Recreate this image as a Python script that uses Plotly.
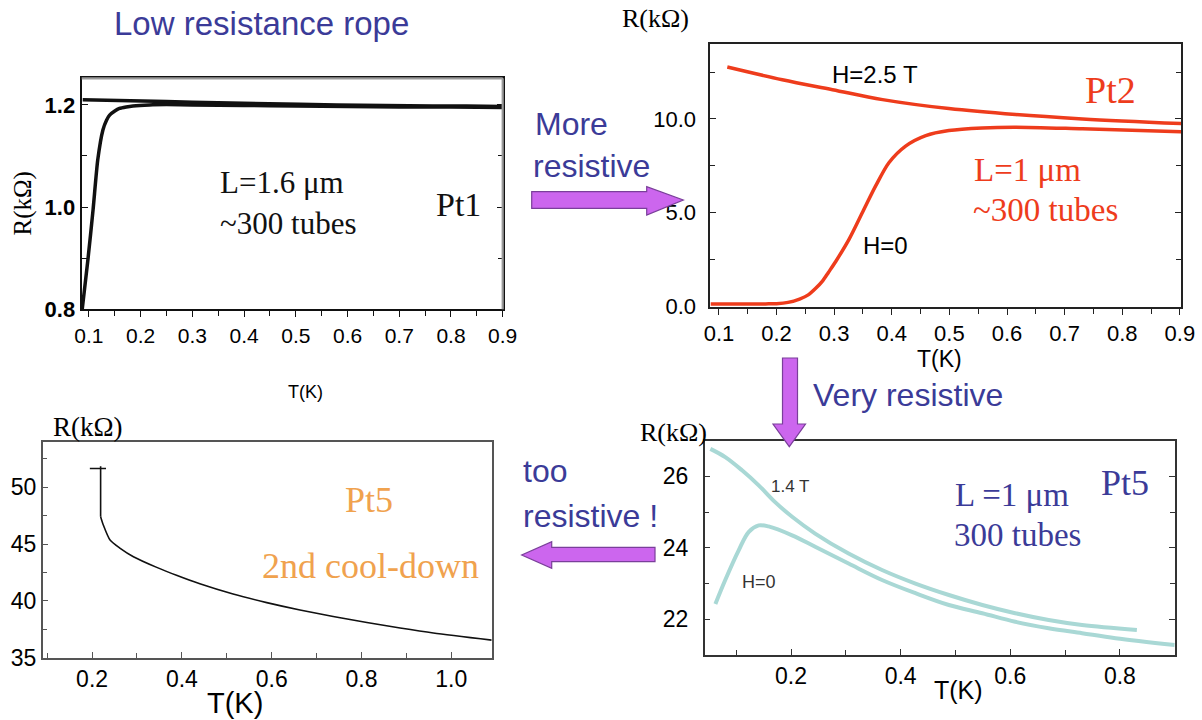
import plotly.graph_objects as go

W, H = 1202, 720

# ---------------- data ----------------
# Panel 1 (Pt1, low resistance rope)
p1_T_flat = [0.088, 0.12, 0.15, 0.185, 0.22, 0.25, 0.30, 0.379, 0.45, 0.507, 0.58, 0.636, 0.70, 0.765, 0.83, 0.90]
p1_R_flat = [1.210, 1.209, 1.208, 1.208, 1.207, 1.2065, 1.205, 1.203, 1.202, 1.201, 1.200, 1.199, 1.199, 1.198, 1.198, 1.197]
p1_T_rise = [0.087, 0.098, 0.108, 0.117, 0.127, 0.134, 0.140, 0.150, 0.159, 0.172, 0.185, 0.217, 0.25, 0.30, 0.40, 0.50, 0.60, 0.70, 0.80, 0.90]
p1_R_rise = [0.800, 0.897, 0.995, 1.092, 1.151, 1.170, 1.180, 1.188, 1.193, 1.196, 1.198, 1.200, 1.2005, 1.200, 1.199, 1.198, 1.197, 1.196, 1.196, 1.195]

# Panel 2 (Pt2)
p2_T_H25 = [0.1145, 0.21, 0.297, 0.384, 0.499, 0.615, 0.731, 0.903]
p2_R_H25 = [12.77, 12.09, 11.56, 11.03, 10.55, 10.23, 10.00, 9.75]
p2_T_H0 = [0.0855, 0.181, 0.20, 0.22, 0.24, 0.255, 0.268, 0.28, 0.29, 0.303, 0.326, 0.349, 0.372, 0.395, 0.424, 0.459, 0.499, 0.557, 0.615, 0.731, 0.903]
p2_R_H0 = [0.11, 0.12, 0.13, 0.20, 0.38, 0.60, 0.95, 1.35, 1.80, 2.40, 3.58, 5.00, 6.42, 7.66, 8.55, 9.11, 9.38, 9.52, 9.56, 9.47, 9.31]

# Panel 3 (Pt5, 2nd cool-down)
p3_T_cap = [0.195, 0.231]
p3_R_cap = [51.65, 51.65]
p3_T_jump = [0.219, 0.219]
p3_R_jump = [51.85, 47.41]
p3_T = [0.219, 0.225, 0.240, 0.2626, 0.292, 0.344, 0.388, 0.44, 0.514, 0.589, 0.663, 0.737, 0.812, 0.886, 0.96, 1.09]
p3_R = [47.41, 46.68, 45.36, 44.63, 43.89, 42.95, 42.25, 41.50, 40.60, 39.85, 39.20, 38.63, 38.10, 37.62, 37.18, 36.55]

# Panel 4 (Pt5, very resistive)
p4_T_14 = [0.0528, 0.080, 0.1106, 0.141, 0.171, 0.202, 0.244, 0.305, 0.366, 0.427, 0.488, 0.549, 0.609, 0.670, 0.731, 0.831]
p4_R_14 = [26.77, 26.54, 26.17, 25.75, 25.28, 24.87, 24.40, 23.84, 23.38, 23.00, 22.68, 22.40, 22.17, 21.98, 21.84, 21.70]
p4_T_H0 = [0.062, 0.080, 0.1045, 0.123, 0.141, 0.159, 0.202, 0.244, 0.305, 0.366, 0.427, 0.488, 0.549, 0.609, 0.670, 0.731, 0.792, 0.90]
p4_R_H0 = [22.43, 23.10, 23.93, 24.45, 24.63, 24.60, 24.35, 24.03, 23.56, 23.10, 22.73, 22.40, 22.17, 21.93, 21.75, 21.61, 21.47, 21.28]

# tick values
p1_xticks = [0.1, 0.2, 0.3, 0.4, 0.5, 0.6, 0.7, 0.8, 0.9]
p1_yticks = [0.8, 1.0, 1.2]
p2_xticks = [0.1, 0.2, 0.3, 0.4, 0.5, 0.6, 0.7, 0.8, 0.9]
p2_yticks = [0.0, 5.0, 10.0]
p3_xticks = [0.2, 0.4, 0.6, 0.8, 1.0]
p3_yticks = [35, 40, 45, 50]
p4_xticks = [0.2, 0.4, 0.6, 0.8]
p4_yticks = [22, 24, 26]

# ---------------- styling helpers ----------------
SANS = "Liberation Sans, Arial, sans-serif"
SERIF = "Liberation Serif, Times New Roman, serif"
BLUE = "#3B3B98"
RED = "#EE3C1C"
ORANGE = "#F0A24E"
TEAL = "#A9D8D5"
ARROW_FILL = "#CC66EE"
ARROW_LINE = "#7A3F9A"


def px(x):
    return x / W


def py(y):
    return 1 - y / H


fig = go.Figure()

fig.add_trace(go.Scatter(x=p1_T_flat, y=p1_R_flat, mode="lines", line=dict(color="#111", width=3.5),
                         xaxis="x", yaxis="y", showlegend=False))
fig.add_trace(go.Scatter(x=p1_T_rise, y=p1_R_rise, mode="lines", line=dict(color="#111", width=3.5, shape="spline", smoothing=0.6),
                         xaxis="x", yaxis="y", showlegend=False))

fig.add_trace(go.Scatter(x=p2_T_H25, y=p2_R_H25, mode="lines", line=dict(color=RED, width=3.5, shape="spline"),
                         xaxis="x2", yaxis="y2", showlegend=False))
fig.add_trace(go.Scatter(x=p2_T_H0, y=p2_R_H0, mode="lines", line=dict(color=RED, width=3.5, shape="spline", smoothing=0.8),
                         xaxis="x2", yaxis="y2", showlegend=False))

fig.add_trace(go.Scatter(x=p3_T_cap, y=p3_R_cap, mode="lines", line=dict(color="#111", width=1.5),
                         xaxis="x3", yaxis="y3", showlegend=False))
fig.add_trace(go.Scatter(x=p3_T_jump, y=p3_R_jump, mode="lines", line=dict(color="#111", width=1.6),
                         xaxis="x3", yaxis="y3", showlegend=False))
fig.add_trace(go.Scatter(x=p3_T, y=p3_R, mode="lines", line=dict(color="#111", width=1.6, shape="spline", smoothing=0.7),
                         xaxis="x3", yaxis="y3", showlegend=False))

fig.add_trace(go.Scatter(x=p4_T_14, y=p4_R_14, mode="lines", line=dict(color=TEAL, width=4, shape="spline"),
                         xaxis="x4", yaxis="y4", showlegend=False))
fig.add_trace(go.Scatter(x=p4_T_H0, y=p4_R_H0, mode="lines", line=dict(color=TEAL, width=4, shape="spline"),
                         xaxis="x4", yaxis="y4", showlegend=False))


def xax(domain, rng, tickvals, fmt, ticks, minor, size, lc="#222", lw=1.5, mirror=True, standoff=None):
    d = dict(domain=domain, range=rng, tickvals=tickvals, ticktext=[fmt.format(v) for v in tickvals],
             ticks=ticks, ticklen=6, tickwidth=1.2, tickcolor=lc,
             minor=dict(tickvals=minor, ticks=ticks, ticklen=5, tickwidth=1.2, tickcolor=lc),
             showline=True, linecolor=lc, linewidth=lw, mirror=mirror,
             showgrid=False, zeroline=False, automargin=False,
             tickfont=dict(family=SANS, size=size, color="#000"))
    if standoff is not None:
        d["ticklabelstandoff"] = standoff
    return d


fig.update_layout(
    width=W, height=H, autosize=False,
    margin=dict(l=0, r=0, t=0, b=0, pad=0),
    paper_bgcolor="white", plot_bgcolor="white",
    xaxis=xax([px(81.7), px(502.7)], [0.086, 0.9], p1_xticks, "{:.1f}", "outside",
              [0.15, 0.25, 0.35, 0.45, 0.55, 0.65, 0.75, 0.85], 21, lc="#111", lw=2.2, mirror=True),
    yaxis=dict(xax([py(309.3), py(78.3)], [0.8, 1.252], p1_yticks, "{:.1f}", "inside",
                   [0.9, 1.1], 22, lc="#111", lw=2.2, mirror="ticks"),
               anchor="x"),
    xaxis2=dict(xax([px(710.3), px(1181)], [0.085, 0.902], p2_xticks, "{:.1f}", "outside",
                    [0.15, 0.25, 0.35, 0.45, 0.55, 0.65, 0.75, 0.85], 22, lc="#222", lw=1.6), anchor="y2"),
    yaxis2=dict(xax([py(306.7), py(44)], [-0.03, 14.0], p2_yticks, "{:.1f}", "inside",
                    [2.5, 7.5, 12.5], 22, lc="#222", lw=1.6, mirror="ticks", standoff=8), anchor="x2"),
    xaxis3=dict(xax([px(42.7), px(491.7)], [0.09, 1.09], p3_xticks, "{:.1f}", "inside",
                    [0.1, 0.3, 0.5, 0.7, 0.9], 23, lc="#555", lw=1.5), anchor="y3"),
    yaxis3=dict(xax([py(657.7), py(442.3)], [35, 53.96], p3_yticks, "{:d}", "inside",
                    [37.5, 42.5, 47.5, 52.5], 23, lc="#555", lw=1.5), anchor="x3"),
    xaxis4=dict(xax([px(704.7), px(1174.7)], [0.0425, 0.9], p4_xticks, "{:.1f}", "inside",
                    [0.1, 0.3, 0.5, 0.7], 23, lc="#333", lw=1.5), anchor="y4"),
    yaxis4=dict(xax([py(655), py(440.7)], [21, 27], p4_yticks, "{:d}", "inside",
                    [23, 25], 23, lc="#333", lw=1.5, mirror="ticks", standoff=10), anchor="x4"),
)
fig.layout.yaxis.tickfont.weight = "bold"

shapes = []
# lighter top/right frame for panel 1
shapes.append(dict(type="line", xref="x domain", yref="y domain", x0=0, x1=1, y0=1, y1=1,
                   line=dict(color="#9a9a9a", width=2.2), layer="above"))
shapes.append(dict(type="line", xref="x domain", yref="y domain", x0=1, x1=1, y0=0, y1=1,
                   line=dict(color="#9a9a9a", width=2.2), layer="above"))


def poly(points):
    d = "M " + " L ".join(f"{px(x):.5f},{py(y):.5f}" for x, y in points) + " Z"
    return dict(type="path", xref="paper", yref="paper", path=d,
                fillcolor=ARROW_FILL, line=dict(color=ARROW_LINE, width=1.2), layer="above")


shapes.append(poly([(531.7, 191.7), (646.7, 191.7), (646.7, 186.7), (683.3, 200), (646.7, 215), (646.7, 208.3), (531.7, 208.3)]))
shapes.append(poly([(782.5, 358), (797.5, 358), (797.5, 424), (805.5, 424), (789.3, 446.7), (773, 424), (782.5, 424)]))
shapes.append(poly([(655, 547.3), (551.7, 547.3), (551.7, 541.7), (521.7, 555), (551.7, 568.3), (551.7, 561.7), (655, 561.7)]))
fig.update_layout(shapes=shapes)

ann = []


def text(t, x, y, size, color="#000", family=SANS, xanchor="center", angle=0):
    ann.append(dict(text=t, x=px(x), y=py(y), xref="paper", yref="paper", showarrow=False,
                    xanchor=xanchor, yanchor="middle", textangle=angle,
                    font=dict(family=family, size=size, color=color)))


# titles / side text
text("Low resistance rope", 261.7, 24, 33, BLUE)
text("More", 533, 124, 32, BLUE, xanchor="left")
text("resistive", 531, 166, 32, BLUE, xanchor="left")
text("Very resistive", 811, 395, 32, BLUE, xanchor="left")
text("too", 521, 471, 32, BLUE, xanchor="left")
text("resistive !", 521, 516, 32, BLUE, xanchor="left")

# panel 1
text("R(kΩ)", 22.5, 204, 25, "#000", SERIF, angle=-90)
text("T(K)", 305, 392, 18)
text("L=1.6 μm", 281.7, 182, 31, "#111", SERIF)
text("~300 tubes", 288, 223, 31, "#111", SERIF)
text("Pt1", 458, 204, 34, "#111", SERIF)

# panel 2
text("R(kΩ)", 655, 18, 26, "#000", SERIF)
text("T(K)", 939, 359, 23)
text("H=2.5 T", 875, 75, 24)
text("H=0", 885, 245, 24)
text("Pt2", 1110, 90, 38, RED, SERIF)
text("L=1 μm", 1027, 170, 33, RED, SERIF)
text("~300 tubes", 1045.5, 210, 33, RED, SERIF)

# panel 3
text("R(kΩ)", 88, 427, 27, "#000", SERIF)
text("T(K)", 235, 703, 29)
text("Pt5", 369, 500, 36, ORANGE, SERIF)
text("2nd cool-down", 370, 566, 36, ORANGE, SERIF)

# panel 4
text("R(kΩ)", 674, 432, 26, "#000", SERIF)
text("T(K)", 958, 690, 25)
text("1.4 T", 790, 486, 17, "#333")
text("H=0", 759, 582, 18, "#333")
text("L =1 μm", 1012, 495, 33, BLUE, SERIF)
text("300 tubes", 1017, 535, 33, BLUE, SERIF)
text("Pt5", 1125, 483, 36, BLUE, SERIF)

fig.update_layout(annotations=ann)

fig.write_html("out.html", config={"displayModeBar": False},
               post_script="document.body.style.margin='0';document.body.style.overflow='hidden';")
